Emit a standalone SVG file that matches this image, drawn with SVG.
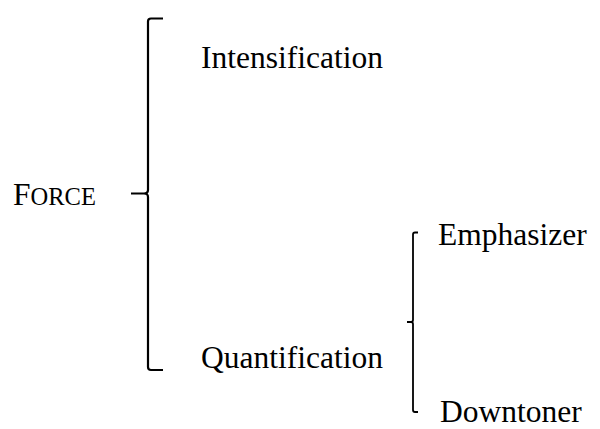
<svg xmlns="http://www.w3.org/2000/svg" width="600" height="429" viewBox="0 0 600 429">
<style>
.t{font-family:"Liberation Serif","Times New Roman",serif;font-size:31.5px;fill:#000}
.b{fill:none;stroke:#000;stroke-width:2.2;stroke-linejoin:round}
.b2{fill:none;stroke:#000;stroke-width:1.8;stroke-linejoin:round}
</style>
<rect width="600" height="429" fill="#fff"/>
<g id="connectors">
<path class="b" d="M163 18.5 H151 Q148 18.5 148 21.5 V190 Q148 193.5 144 193.5 H131 M144 193.5 Q148 193.5 148 197 V367 Q148 370 151 370 H163"/>
<path class="b2" d="M418 232.5 H415 Q413 232.5 413 234.5 V320 Q413 322 411 322 H407 M411 322 Q413 322 413 324 V410 Q413 412 415 412 H418"/>
</g>
<g id="force"><text class="t" x="13" y="205">F<tspan font-size="24.5">ORCE</tspan></text></g>
<g id="intensification"><text class="t" x="201" y="67.5">Intensification</text></g>
<g id="quantification"><text class="t" x="201" y="368">Quantification</text></g>
<g id="emphasizer"><text class="t" x="438" y="245">Emphasizer</text></g>
<g id="downtoner"><text class="t" x="440" y="422">Downtoner</text></g>
</svg>
